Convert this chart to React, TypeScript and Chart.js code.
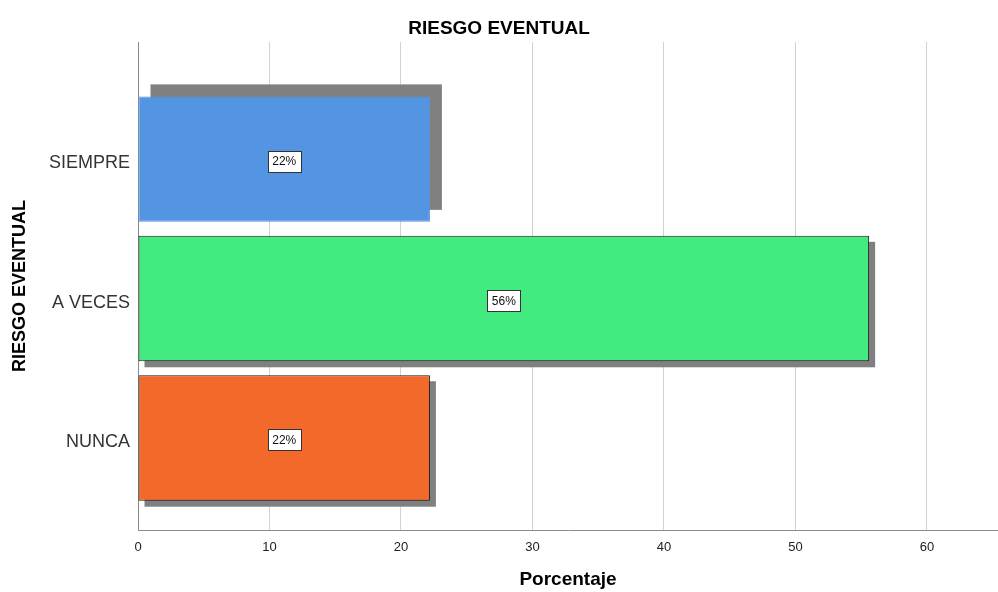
import React, { useEffect, useRef } from "react";
import { Chart, registerables } from "chart.js";

Chart.register(...registerables);

const categories = ["SIEMPRE", "A VECES", "NUNCA"];
const percentages = [22.2, 55.6, 22.2];
const barColors = ["#5394E3", "#42EA7F", "#F2692A"];
const barBorderColors = ["#5394E3", "#1a1a1a", "#1a1a1a"];
const shadowDx = [12, 6, 6];
const shadowDy = [-12, 6, 6];
const xTickStep = 10;
const xMax = 65.4;
const yMin = -0.84;
const yMax = 2.66;

const FONT = "'Liberation Sans', Arial, sans-serif";

const shadowPlugin = {
  id: "barShadow",
  beforeDatasetsDraw(chart: any) {
    const ctx = chart.ctx;
    const meta = chart.getDatasetMeta(0);
    ctx.save();
    ctx.fillStyle = "#808080";
    meta.data.forEach((el: any, i: number) => {
      const { x, y, base, height } = el.getProps(["x", "y", "base", "height"], true);
      const left = Math.min(x, base);
      const right = Math.max(x, base);
      ctx.fillRect(left + shadowDx[i], y - height / 2 + shadowDy[i], right - left, height);
    });
    ctx.restore();
  },
};

const labelPlugin = {
  id: "barLabels",
  afterDatasetsDraw(chart: any) {
    const ctx = chart.ctx;
    const meta = chart.getDatasetMeta(0);
    ctx.save();
    ctx.font = `12px ${FONT}`;
    ctx.textAlign = "center";
    ctx.textBaseline = "middle";
    meta.data.forEach((el: any, i: number) => {
      const { x, y, base } = el.getProps(["x", "y", "base"], true);
      const cx = (x + base) / 2;
      const cy = y + 2;
      const text = `${Math.round(percentages[i])}%`;
      const w = Math.round(ctx.measureText(text).width + 9);
      const h = 21;
      const lx = Math.round(cx - w / 2) + 0.5;
      const ty = Math.round(cy - h / 2) + 0.5;
      ctx.fillStyle = "#ffffff";
      ctx.fillRect(lx, ty, w, h);
      ctx.strokeStyle = "#333333";
      ctx.lineWidth = 1;
      ctx.strokeRect(lx, ty, w, h);
      ctx.fillStyle = "#111111";
      ctx.fillText(text, cx, cy + 1);
    });
    ctx.restore();
  },
};

export default function App() {
  const ref = useRef<HTMLCanvasElement>(null);

  useEffect(() => {
    document.body.style.margin = "0";
    const canvas = ref.current!;
    const chart = new Chart(canvas, {
      type: "bar",
      data: {
        datasets: [
          {
            label: "Porcentaje",
            data: percentages.map((v, i) => ({ x: v, y: i })),
            backgroundColor: barColors,
            borderColor: barBorderColors,
            borderWidth: 1,
            borderSkipped: false,
            categoryPercentage: 0.9,
            barPercentage: 1,
          },
        ],
      },
      options: {
        indexAxis: "y",
        responsive: false,
        animation: false,
        layout: { padding: { left: 0, right: 0, top: 0, bottom: 0 } },
        plugins: {
          legend: { display: false },
          tooltip: { enabled: false },
          title: {
            display: true,
            text: "RIESGO EVENTUAL",
            color: "#000000",
            font: { family: FONT, size: 19, weight: "bold" },
            padding: { top: 17, bottom: 2.2 },
          },
        },
        scales: {
          x: {
            type: "linear",
            min: 0,
            max: xMax,
            ticks: {
              stepSize: xTickStep,
              includeBounds: false,
              color: "#222222",
              font: { family: FONT, size: 13 },
              padding: 10,
            },
            grid: { color: "#d2d2d2", lineWidth: 1, drawTicks: false },
            border: { color: "#8a8a8a", width: 1 },
            title: {
              display: true,
              text: "Porcentaje",
              color: "#000000",
              font: { family: FONT, size: 19, weight: "bold" },
              padding: { top: 0, bottom: 1 },
            },
            afterFit: (s: any) => {
              s.height = 62;
            },
          },
          y: {
            type: "linear",
            reverse: true,
            offset: false,
            bounds: "data",
            min: yMin,
            max: yMax,
            afterBuildTicks: (s: any) => {
              s.ticks = categories.map((_, i) => ({ value: i }));
              s.min = yMin;
              s.max = yMax;
            },
            ticks: {
              includeBounds: false,
              callback: (v: any) => categories[v as number] ?? "",
              color: "#333333",
              font: { family: FONT, size: 18 },
              padding: 8,
              labelOffset: 4,
              autoSkip: false,
            },
            grid: { display: false, drawTicks: false, offset: false },
            border: { color: "#8a8a8a", width: 1 },
            title: {
              display: true,
              text: "RIESGO EVENTUAL",
              color: "#000000",
              font: { family: FONT, size: 18, weight: "bold" },
              padding: { top: 9, bottom: 0 },
            },
            afterFit: (s: any) => {
              s.width = 138;
            },
          },
        },
      },
      plugins: [shadowPlugin, labelPlugin],
    } as any);
    return () => chart.destroy();
  }, []);

  return (
    <div style={{ width: 998, height: 592 }}>
      <canvas ref={ref} width={998} height={592} />
    </div>
  );
}
